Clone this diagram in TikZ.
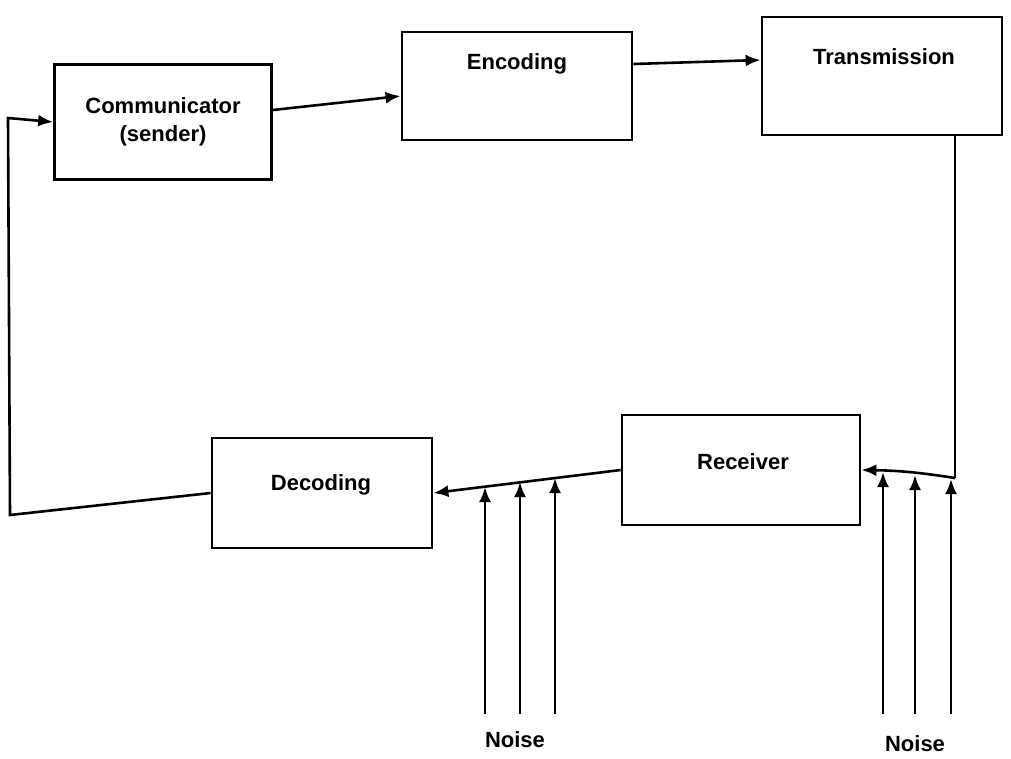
\documentclass[tikz,border=0pt]{standalone}
\usepackage{fontspec}
\setmainfont{Liberation Sans}
\usetikzlibrary{arrows.meta,calc}
\begin{document}
\begin{tikzpicture}[x=1pt,y={(0pt,-1pt)},
  box/.style={draw,line width=2.8pt,minimum width=#1,inner sep=0pt},
  lbl/.style={font=\fontsize{22}{28}\selectfont\bfseries,align=center},
  con/.style={line width=2.6pt},
  arr/.style={con,-{Latex[length=15pt,width=12pt]}}]
\useasboundingbox (0,0) rectangle (1011,758);
% boxes
\node[box=217pt,minimum height=115pt] (comm) at (163,122) {};
\node[box=230pt,minimum height=108pt] (enc) at (517,86) {};
\node[box=240pt,minimum height=118pt] (trans) at (882,76) {};
\node[box=238pt,minimum height=110pt] (rec) at (741,470) {};
\node[box=220pt,minimum height=110pt] (dec) at (322,493) {};
% labels
\node[lbl] (tcomm) at (163,122) {Communicator\\(sender)};
\node[lbl] (tenc) at (517,64) {Encoding};
\node[lbl] (ttrans) at (884,57) {Transmission};
\node[lbl] (trec) at (743,462) {Receiver};
\node[lbl] (tdec) at (321,485) {Decoding};
% connectors
\draw[arr] ([yshift=12pt]comm.east) -- ([yshift=-10pt]enc.west);
\draw[arr] ([yshift=22pt]enc.east) -- ([yshift=16pt]trans.west);
\coordinate (c1) at (955,478);
\draw[con] ([xshift=73pt]trans.south) -- (c1);
\draw[arr] (c1) to[bend right=4] (rec.east);
\draw[arr] (rec.west) -- (dec.east);
\coordinate (c2) at (10,515);
\coordinate (c3) at (8,118);
\draw[arr] (dec.west) -- (c2) -- (c3) -- (comm.west);
% noise arrows
\foreach \i/\x/\y in {1/485/487,2/520/482,3/555/478,4/883/472,5/915/475,6/951/479}{
  \coordinate (n\i) at (\x,714);
  \coordinate (m\i) at (\x,\y);
  \draw[arr] (n\i) -- (m\i);
}
\node[lbl] (noise1) at (515,740) {Noise};
\node[lbl] (noise2) at (915,744) {Noise};
\end{tikzpicture}
\end{document}
